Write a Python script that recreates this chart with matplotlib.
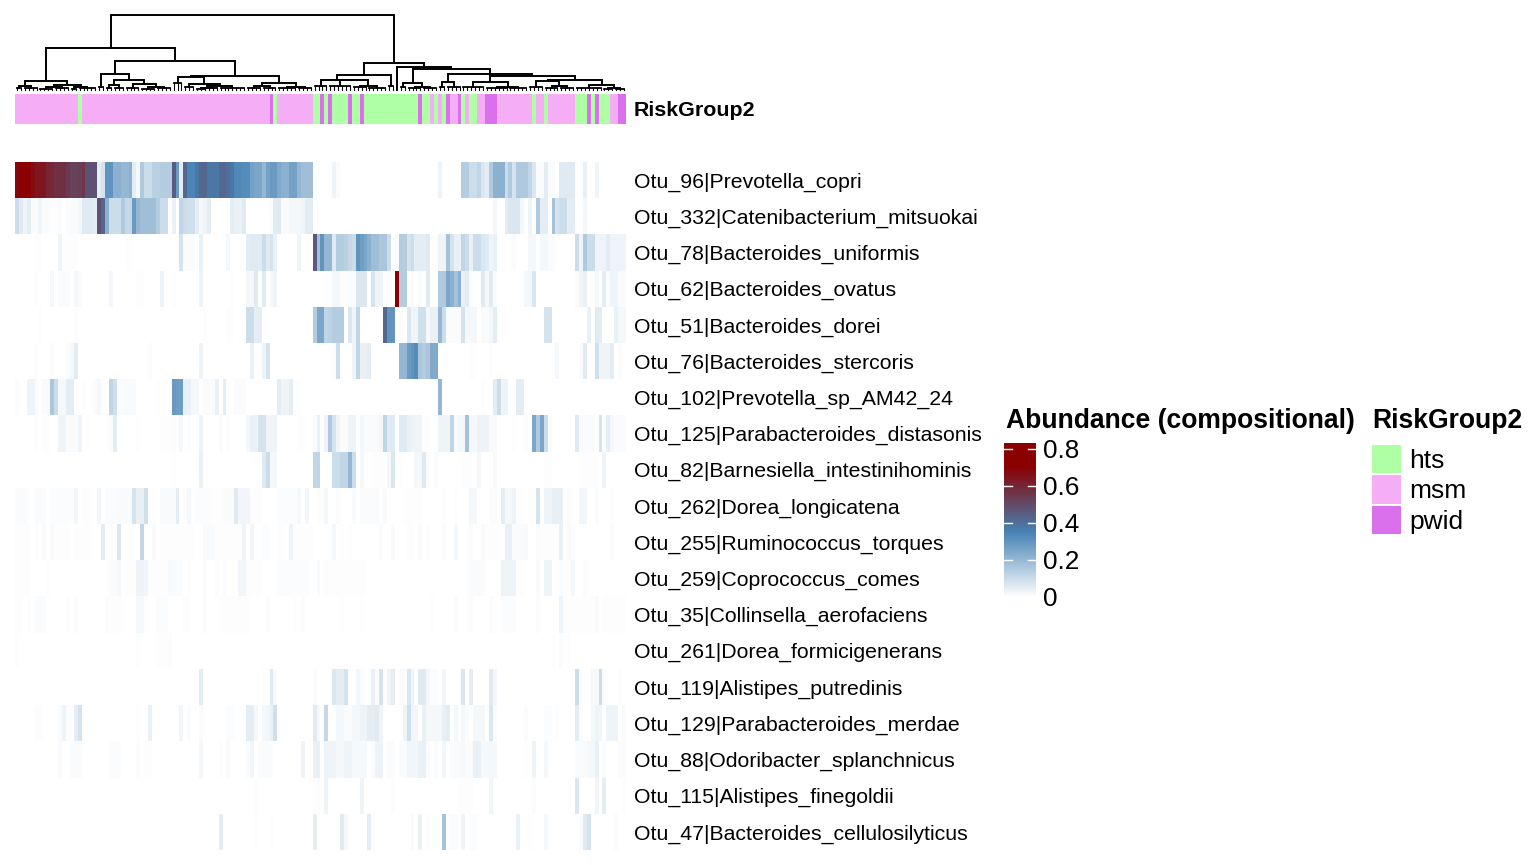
"""
Heatmap of the top OTUs with sample dendrogram and RiskGroup2 annotation
"""

import numpy as np
import matplotlib
matplotlib.use('Agg')
import matplotlib.pyplot as plt
from matplotlib.colors import LinearSegmentedColormap, ListedColormap, Normalize
from matplotlib.patches import Rectangle

plt.rcParams['font.family'] = ['Liberation Sans', 'DejaVu Sans']

n_samples = 156

otu_labels = [
    'Otu_96|Prevotella_copri', 'Otu_332|Catenibacterium_mitsuokai',
    'Otu_78|Bacteroides_uniformis', 'Otu_62|Bacteroides_ovatus',
    'Otu_51|Bacteroides_dorei', 'Otu_76|Bacteroides_stercoris',
    'Otu_102|Prevotella_sp_AM42_24', 'Otu_125|Parabacteroides_distasonis',
    'Otu_82|Barnesiella_intestinihominis', 'Otu_262|Dorea_longicatena',
    'Otu_255|Ruminococcus_torques', 'Otu_259|Coprococcus_comes',
    'Otu_35|Collinsella_aerofaciens', 'Otu_261|Dorea_formicigenerans',
    'Otu_119|Alistipes_putredinis', 'Otu_129|Parabacteroides_merdae',
    'Otu_88|Odoribacter_splanchnicus', 'Otu_115|Alistipes_finegoldii',
    'Otu_47|Bacteroides_cellulosilyticus',
]

# abundance per row, as runs of samples: (first, stop, value), zero elsewhere
otu_96_left = [.68, .72, .7, .69, .66, .64, .64, .64, .6, .59, .57, .57, .57, .54, .52, .52, .53, .55, .48, .48,
               .48, .05, .08, .3, .3, .22, .22, .2, .2, .22, .05, .02, .15, .1, .1, .13, .13, .14, .14, .14,
               .45, .28, .05, .42, .34, .34, .38, .42, .42, .38, .38, .38, .42, .42, .4, .38, .33, .33, .32, .32,
               .26, .25, .25, .2, .26, .28, .28, .24, .22, .22, .26, .26, .2, .18, .18, .18]
otu_96 = [(81, 82, .03), (82, 83, .01), (108, 109, .03), (114, 116, .14), (116, 118, .1), (118, 119, .12), (119, 120, .07),
          (120, 121, .05), (121, 122, .15), (122, 125, .22), (125, 126, .1), (126, 127, .15), (127, 128, .08),
          (128, 131, .15), (131, 132, .12), (132, 133, .07), (133, 135, .01), (135, 136, .05), (136, 138, .01),
          (139, 143, .06), (145, 146, .04), (148, 149, .03)]
otu_332 = [(0, 1, .1), (1, 2, .06), (2, 3, .03), (3, 4, .05), (4, 6, .01), (6, 7, .03), (7, 9, .01), (9, 11, .005),
           (11, 12, .01), (13, 16, .01), (16, 17, .02), (17, 20, .06), (20, 21, .05), (21, 22, .48), (22, 23, .42),
           (23, 24, .22), (24, 27, .1), (27, 28, .15), (28, 30, .11), (30, 31, .28), (31, 32, .2), (32, 36, .18),
           (36, 37, .14), (37, 39, .1), (40, 41, .04), (42, 43, .12), (43, 44, .1), (44, 46, .09), (46, 47, .05),
           (47, 48, .02), (48, 49, .03), (49, 50, .05), (55, 56, .05), (56, 58, .04), (58, 59, .06), (65, 66, .01),
           (66, 68, .06), (68, 70, .015), (70, 73, .02), (73, 74, .03), (74, 76, .05), (122, 123, .02), (125, 126, .05),
           (126, 129, .07), (129, 130, .02), (131, 132, .03), (133, 134, .15), (134, 136, .05), (137, 138, .17),
           (138, 139, .08), (139, 141, .1), (141, 143, .05), (145, 146, .02)]
otu_78 = [(5, 7, .005), (11, 12, .03), (12, 16, .005), (28, 30, .005), (42, 43, .08), (43, 46, .01), (47, 48, .04),
          (54, 55, .02), (59, 60, .05), (60, 63, .06), (63, 64, .1), (64, 65, .06), (65, 66, .08), (66, 67, .04),
          (72, 73, .03), (76, 77, .45), (77, 78, .17), (78, 79, .3), (79, 81, .2), (81, 82, .06), (82, 84, .14),
          (84, 85, .13), (85, 86, .11), (86, 87, .1), (87, 88, .3), (88, 89, .27), (89, 90, .25), (90, 91, .22),
          (91, 93, .18), (93, 95, .16), (95, 96, .1), (97, 98, .01), (98, 100, .14), (100, 101, .08), (101, 102, .1),
          (102, 105, .05), (105, 106, .06), (108, 110, .03), (110, 111, .17), (111, 112, .08), (112, 114, .04),
          (114, 115, .12), (115, 116, .1), (116, 117, .04), (117, 119, .1), (119, 120, .07), (120, 121, .06),
          (121, 122, .03), (122, 123, .04), (127, 128, .01), (131, 133, .02), (134, 136, .02), (136, 138, .01),
          (143, 144, .1), (144, 145, .03), (145, 146, .15), (146, 148, .1), (148, 151, .03), (151, 152, .05), (152, 156, .03)]
otu_62 = [(5, 6, .005), (9, 10, .02), (11, 14, .01), (15, 16, .02), (16, 17, .01), (24, 25, .025), (31, 33, .005),
          (37, 38, .03), (40, 41, .005), (47, 48, .03), (55, 56, .005), (59, 61, .02), (61, 62, .06), (63, 64, .06),
          (65, 66, .02), (66, 67, .03), (79, 80, .005), (81, 83, .02), (83, 85, .005), (85, 87, .01), (87, 90, .07),
          (91, 92, .08), (92, 94, .03), (95, 96, .005), (97, 98, .83), (98, 100, .14), (101, 102, .015), (103, 104, .01),
          (105, 106, .06), (108, 110, .15), (110, 111, .25), (111, 112, .22), (112, 113, .17), (113, 114, .22),
          (114, 115, .04), (115, 116, .05), (116, 117, .01), (119, 120, .06), (120, 121, .02), (121, 122, .06),
          (122, 123, .01), (130, 132, .02), (132, 133, .07), (143, 144, .01), (144, 145, .03), (145, 146, .04),
          (148, 149, .02), (150, 151, .05), (151, 152, .01), (152, 154, .03), (154, 156, .01)]
otu_51 = [(6, 7, .005), (15, 16, .005), (28, 29, .002), (34, 35, .003), (48, 49, .005), (54, 56, .005), (59, 61, .1),
          (61, 63, .05), (76, 77, .14), (77, 79, .25), (79, 80, .12), (80, 81, .13), (81, 84, .14), (85, 86, .07),
          (86, 87, .03), (87, 88, .12), (94, 95, .42), (95, 97, .3), (98, 99, .01), (100, 101, .07), (101, 103, .03),
          (103, 105, .09), (105, 106, .02), (106, 108, .04), (108, 109, .2), (109, 110, .1), (110, 114, .01),
          (114, 115, .08), (115, 116, .02), (116, 118, .02), (119, 120, .015), (120, 121, .01), (121, 122, .02),
          (122, 123, .05), (135, 137, .08), (146, 147, .04), (148, 149, .06), (149, 150, .05), (153, 154, .04), (154, 156, .02)]
otu_76 = [(5, 6, .005), (9, 10, .01), (13, 14, .01), (14, 15, .02), (15, 16, .05), (16, 17, .002), (34, 35, .01),
          (47, 48, .03), (60, 61, .04), (63, 64, .03), (64, 65, .08), (81, 82, .01), (82, 83, .1), (86, 87, .03),
          (87, 88, .12), (88, 90, .04), (90, 91, .05), (98, 100, .2), (100, 101, .28), (101, 102, .3), (102, 103, .32),
          (103, 104, .16), (104, 105, .14), (105, 106, .16), (106, 108, .24), (116, 118, .005), (121, 122, .005),
          (138, 139, .02), (144, 145, .01), (145, 146, .06), (148, 149, .09), (149, 150, .03), (150, 152, .03),
          (152, 153, .05), (154, 155, .01)]
otu_102 = [(0, 1, .01), (3, 5, .03), (5, 6, .01), (7, 9, .015), (9, 10, .16), (10, 11, .1), (11, 13, .02), (13, 15, .05),
           (17, 18, .005), (20, 21, .01), (21, 22, .02), (24, 25, .12), (25, 26, .09), (26, 28, .01), (28, 31, .015),
           (36, 37, .005), (40, 41, .28), (41, 43, .27), (43, 45, .04), (45, 47, .02), (48, 49, .01), (49, 51, .01),
           (51, 52, .04), (53, 54, .05), (56, 59, .012), (67, 68, .05), (68, 70, .03), (70, 71, .05), (71, 73, .005),
           (108, 109, .2), (119, 120, .005), (122, 123, .05), (123, 124, .1), (124, 126, .03), (128, 130, .05),
           (130, 131, .005), (137, 142, .003)]
otu_125 = [(5, 6, .005), (7, 9, .005), (11, 13, .03), (13, 16, .01), (16, 17, .03), (18, 19, .005), (24, 25, .01),
           (25, 26, .05), (31, 32, .005), (35, 36, .003), (37, 40, .005), (40, 41, .01), (42, 43, .02), (44, 45, .005),
           (47, 48, .03), (52, 53, .01), (54, 55, .005), (59, 60, .02), (60, 62, .04), (62, 64, .08), (64, 67, .03),
           (72, 74, .005), (76, 77, .01), (77, 78, .04), (79, 80, .03), (80, 81, .15), (81, 82, .08), (82, 83, .03),
           (83, 85, .01), (85, 87, .03), (88, 89, .02), (89, 93, .012), (93, 94, .02), (94, 95, .12), (95, 97, .06),
           (98, 100, .06), (100, 101, .04), (101, 104, .03), (104, 106, .005), (108, 111, .03), (111, 112, .12),
           (112, 113, .01), (113, 115, .02), (115, 116, .17), (116, 118, .02), (118, 121, .035), (121, 123, .015),
           (127, 128, .005), (130, 131, .01), (132, 133, .25), (133, 134, .15), (134, 135, .25), (135, 136, .1),
           (136, 137, .015), (137, 139, .002), (143, 144, .06), (144, 145, .015), (145, 148, .01), (149, 150, .08),
           (150, 151, .01), (151, 152, .05), (152, 153, .02), (153, 156, .01)]
otu_82 = [(40, 41, .005), (47, 48, .04), (63, 64, .06), (64, 65, .1), (65, 67, .02), (76, 78, .12), (81, 83, .1),
          (83, 85, .12), (85, 86, .2), (86, 87, .1), (88, 89, .02), (91, 95, .005), (95, 96, .02), (96, 97, .07),
          (98, 99, .005), (102, 104, .02), (104, 105, .06), (105, 106, .01), (107, 108, .01), (114, 118, .006),
          (118, 119, .02), (122, 123, .015), (135, 137, .005), (144, 149, .005), (150, 151, .03)]
otu_262 = [(0, 3, .01), (5, 8, .01), (9, 15, .008), (15, 16, .025), (17, 20, .006), (21, 22, .025), (23, 26, .012),
           (26, 30, .015), (30, 31, .08), (31, 33, .045), (33, 34, .09), (34, 36, .004), (37, 41, .016), (41, 42, .05),
           (43, 44, .008), (44, 45, .02), (46, 47, .008), (47, 50, .008), (50, 53, .004), (53, 56, .012), (56, 57, .06),
           (57, 60, .025), (60, 63, .006), (67, 72, .008), (72, 73, .02), (74, 75, .025), (77, 79, .005), (79, 80, .02),
           (82, 83, .01), (86, 87, .015), (88, 92, .01), (92, 93, .015), (94, 95, .015), (99, 102, .006), (102, 104, .005),
           (109, 110, .005), (112, 113, .005), (116, 118, .02), (121, 123, .01), (124, 125, .05), (125, 127, .02),
           (127, 128, .03), (128, 130, .005), (131, 133, .005), (133, 134, .08), (135, 137, .03), (137, 140, .045),
           (141, 142, .01), (144, 146, .025), (148, 149, .01), (152, 153, .005), (154, 155, .003)]
otu_255 = [(0, 4, .004), (5, 6, .008), (7, 8, .015), (9, 10, .015), (10, 14, .005), (15, 20, .005), (22, 23, .05),
           (24, 25, .015), (26, 27, .07), (29, 31, .006), (32, 33, .12), (33, 34, .004), (35, 36, .015), (37, 46, .004),
           (48, 51, .015), (51, 58, .005), (58, 59, .03), (60, 61, .025), (63, 65, .008), (67, 69, .005), (70, 71, .03),
           (71, 76, .005), (81, 82, .02), (83, 84, .005), (85, 86, .005), (93, 94, .01), (96, 97, .015), (100, 102, .005),
           (103, 104, .015), (105, 106, .005), (109, 110, .01), (112, 113, .02), (116, 117, .01), (119, 120, .015),
           (120, 124, .005), (125, 127, .04), (127, 130, .01), (130, 131, .015), (133, 134, .01), (134, 139, .005),
           (139, 140, .04), (141, 142, .015), (142, 143, .005), (152, 153, .01)]
otu_259 = [(0, 4, .005), (4, 8, .003), (8, 9, .006), (9, 24, .003), (24, 26, .012), (26, 27, .02), (27, 29, .005),
           (29, 31, .005), (31, 33, .035), (33, 34, .025), (34, 39, .005), (39, 40, .015), (40, 43, .01), (44, 45, .004),
           (48, 49, .01), (51, 52, .008), (53, 54, .01), (57, 59, .025), (59, 63, .005), (67, 75, .008), (77, 78, .015),
           (79, 80, .012), (80, 90, .004), (116, 120, .012), (124, 128, .03), (128, 130, .005), (133, 134, .015),
           (135, 137, .03), (139, 140, .012), (140, 142, .006), (142, 143, .02), (145, 146, .012), (150, 154, .003)]
otu_35 = [(0, 2, .004), (3, 4, .004), (5, 8, .012), (13, 14, .004), (15, 16, .01), (23, 24, .01), (24, 28, .006),
          (31, 33, .018), (33, 34, .006), (36, 39, .008), (43, 45, .006), (48, 49, .012), (52, 58, .005), (58, 60, .004),
          (64, 65, .008), (71, 72, .006), (73, 74, .01), (76, 83, .003), (83, 84, .005), (88, 89, .004), (106, 107, .004),
          (112, 113, .012), (116, 117, .012), (121, 122, .012), (122, 123, .005), (124, 128, .008), (133, 134, .012),
          (134, 139, .002), (139, 140, .03), (140, 148, .005), (148, 149, .015), (150, 156, .006)]
otu_261 = [(0, 1, .005), (1, 31, .002), (31, 32, .006), (32, 36, .002), (36, 39, .005), (39, 40, .008), (40, 76, .002),
           (85, 86, .003), (119, 121, .003), (137, 138, .006), (139, 140, .01), (141, 142, .006)]
otu_119 = [(47, 48, .05), (63, 64, .005), (65, 66, .06), (66, 67, .015), (76, 77, .012), (81, 82, .07), (82, 84, .05),
           (84, 85, .08), (87, 88, .02), (88, 89, .01), (91, 92, .04), (92, 93, .01), (93, 94, .08), (95, 96, .03),
           (96, 97, .05), (98, 99, .015), (99, 100, .012), (100, 101, .07), (101, 102, .03), (103, 105, .06),
           (105, 106, .025), (106, 108, .007), (109, 110, .025), (114, 115, .07), (116, 117, .05), (121, 122, .06),
           (122, 123, .025), (143, 144, .1), (144, 145, .007), (147, 149, .02), (149, 150, .1), (150, 151, .012), (154, 155, .005)]
otu_129 = [(5, 7, .008), (11, 12, .01), (12, 13, .03), (13, 15, .005), (15, 16, .05), (16, 17, .08), (17, 19, .003),
           (31, 32, .005), (34, 35, .04), (42, 43, .025), (44, 45, .01), (47, 48, .012), (54, 56, .008), (59, 61, .05),
           (61, 62, .02), (63, 64, .02), (64, 65, .025), (65, 66, .04), (66, 67, .09), (76, 77, .06), (77, 78, .02),
           (79, 80, .11), (82, 84, .02), (84, 86, .012), (86, 88, .02), (88, 90, .03), (90, 92, .05), (92, 93, .06),
           (93, 94, .03), (99, 100, .03), (100, 101, .09), (101, 103, .025), (104, 105, .04), (105, 108, .02),
           (108, 109, .02), (109, 110, .04), (110, 111, .05), (112, 113, .02), (114, 115, .02), (115, 116, .01),
           (117, 120, .02), (121, 122, .07), (122, 123, .01), (130, 131, .012), (135, 137, .007), (138, 139, .006),
           (143, 144, .05), (144, 145, .012), (147, 148, .02), (148, 149, .03), (149, 150, .025), (151, 154, .03), (155, 156, .012)]
otu_88 = [(7, 8, .003), (11, 12, .015), (14, 17, .012), (24, 27, .008), (31, 32, .008), (33, 35, .006), (47, 48, .02),
          (52, 53, .006), (54, 55, .015), (59, 60, .01), (60, 61, .025), (62, 66, .012), (73, 74, .03), (76, 78, .04),
          (79, 82, .03), (82, 84, .022), (84, 86, .03), (86, 88, .018), (88, 90, .018), (91, 92, .01), (92, 94, .035),
          (95, 97, .01), (98, 100, .01), (100, 103, .025), (103, 105, .04), (105, 106, .01), (107, 108, .01), (109, 110, .025),
          (111, 112, .01), (112, 114, .012), (114, 115, .018), (115, 117, .012), (117, 119, .04), (119, 121, .018),
          (121, 123, .022), (130, 131, .005), (132, 133, .03), (135, 136, .02), (143, 146, .012), (146, 148, .02),
          (148, 149, .04), (150, 151, .01), (154, 156, .012)]
otu_115 = [(11, 12, .002), (54, 55, .002), (61, 62, .008), (76, 77, .005), (77, 78, .01), (79, 80, .03), (82, 88, .002),
           (88, 89, .03), (96, 97, .008), (100, 101, .003), (106, 113, .002), (113, 117, .005), (121, 122, .025),
           (132, 133, .01), (143, 144, .07), (148, 149, .025), (150, 151, .05), (155, 156, .005)]
otu_47 = [(52, 53, .05), (61, 62, .005), (65, 66, .005), (76, 77, .05), (83, 84, .06), (84, 85, .02), (90, 91, .05),
          (91, 92, .01), (101, 102, .015), (103, 104, .04), (105, 106, .004), (109, 110, .17), (110, 111, .005),
          (111, 113, .012), (114, 115, .03), (116, 118, .008), (128, 129, .04), (131, 132, .004), (135, 136, .02),
          (144, 145, .01), (145, 146, .06), (146, 147, .08), (153, 154, .012)]

otu_rows = [otu_96, otu_332, otu_78, otu_62, otu_51, otu_76, otu_102, otu_125, otu_82, otu_262,
            otu_255, otu_259, otu_35, otu_261, otu_119, otu_129, otu_88, otu_115, otu_47]

# RiskGroup2 per sample, as (group, count)
risk_runs = [('msm', 16), ('hts', 1), ('msm', 48), ('pwid', 1), ('hts', 1), ('msm', 9), ('hts', 2), ('pwid', 1),
             ('hts', 1), ('pwid', 1), ('hts', 4), ('pwid', 1), ('hts', 2), ('pwid', 1), ('hts', 14), ('pwid', 1),
             ('hts', 2), ('msm', 1), ('hts', 1), ('msm', 1), ('hts', 1), ('pwid', 1), ('msm', 2), ('pwid', 1),
             ('hts', 1), ('msm', 1), ('hts', 2), ('msm', 2), ('pwid', 3), ('msm', 9), ('hts', 1), ('msm', 2),
             ('hts', 1), ('msm', 7), ('hts', 3), ('pwid', 1), ('hts', 1), ('pwid', 1), ('hts', 3), ('msm', 2), ('pwid', 2)]
risk_levels = ['hts', 'msm', 'pwid']
risk_colors = ['#AFFFA5', '#F5AEF5', '#DA70EB']

# sample tree: (height, left, right), a list [height, n] is a tight group of n samples
tree = (75.5,
        (42,
         (9,
          (4, [2, 2], [2, 4]),
          (5, (3, [1.5, 4], [2, 4]), (3.5, [1.5, 2], [2.5, 5]))),
         (29,
          (16,
           [3, 2],
           (10,
            (5, [2, 2], [2.5, 3]),
            (6, [2.5, 4], (3.5, [1.5, 4], [2, 4])))),
           (14,
            (13, [7.5, 3], (6, [3, 3], (4, (2.5, [1.5, 3], [2, 3]), [2, 7]))),
            (7.3, (4, [2, 4], [2.5, 4]), (3.5, [2.5, 5], [2, 4]))))),
        (27.3,
         (15,
          (10.5, [4, 4], (10, [4, 6], (4, [3, 4], [2, 5]))),
          [4.5, 2]),
         (23,
          [0, 1],
          (21,
           (7.5, [3, 2], (3, [2, 4], [2.5, 4])),
           (16,
            (8, [3, 2], [3, 4]),
            (14,
             (8.3, [3, 6], (3.5, [2, 6], [2.5, 5])),
             (10,
              (9, [3, 4], (4, [2, 4], [2.5, 4])),
              (5, [2.5, 7], (2, [1.5, 3], [1, 3])))))))))

cbar_ticks = [0, 0.2, 0.4, 0.6, 0.8]
cbar_labels = ['0', '0.2', '0.4', '0.6', '0.8']
cbar_max = 0.832


def expand_row(runs):
    row = np.zeros(n_samples)
    for first, stop, value in runs:
        row[first:stop] = value
    return row


def draw_tree(ax, node, first):
    """returns x position, height and next free sample"""
    if isinstance(node, list):
        h, n = node
        xs = first + np.arange(n) + 0.5
        if n > 1:
            ax.plot([xs[0], xs[-1]], [h, h], color='black', lw=1.3, solid_capstyle='projecting')
        for x in xs:
            ax.plot([x, x], [0, h], color='black', lw=0.8)
        return xs.mean(), h, first + n
    h, left, right = node
    xl, hl, nxt = draw_tree(ax, left, first)
    xr, hr, nxt = draw_tree(ax, right, nxt)
    ax.plot([xl, xl, xr, xr], [hl, h, h, hr], color='black', lw=1.4, solid_joinstyle='miter')
    return (xl + xr) / 2, h, nxt


def px_axes(fig, x0, y0, x1, y1):
    W, H = fig.get_size_inches() * fig.dpi
    ax = fig.add_axes([x0 / W, 1 - y1 / H, (x1 - x0) / W, (y1 - y0) / H])
    ax.set_axis_off()
    return ax


def main():
    fig = plt.figure(figsize=(15.36, 8.65), dpi=100, facecolor='white')

    # white - steelblue - darkred
    cmap = LinearSegmentedColormap.from_list(
        'abund', [(0, '#FFFFFF'), (0.35 / cbar_max, '#4682B4'), (0.7 / cbar_max, '#8B0000'), (1, '#8B0000')])
    norm = Normalize(0, cbar_max)

    # dendrogram
    ax_tree = px_axes(fig, 15, 0, 626, 90)
    draw_tree(ax_tree, tree, 0)
    ax_tree.set_xlim(0, n_samples)
    ax_tree.set_ylim(0, 90)
    for line in ax_tree.lines:
        line.set_clip_on(False)

    # annotation strip
    codes = []
    for group, count in risk_runs:
        codes += [risk_levels.index(group)] * count
    ax_ann = px_axes(fig, 15, 94, 626, 124)
    ax_ann.imshow(np.array(codes)[None, :], aspect='auto', interpolation='nearest',
                  cmap=ListedColormap(risk_colors), vmin=0, vmax=2)

    # heatmap
    data = np.array([expand_row(r) for r in otu_rows])
    data[0, :76] = otu_96_left
    ax_heat = px_axes(fig, 15, 162, 626, 850)
    ax_heat.imshow(data, aspect='auto', interpolation='nearest', cmap=cmap, norm=norm)

    # overlay for texts, in pixels
    ax_txt = px_axes(fig, 0, 0, 1536, 865)
    ax_txt.set_xlim(0, 1536)
    ax_txt.set_ylim(865, 0)
    ax_txt.text(634, 111, 'RiskGroup2', fontsize=15.4, fontweight='bold', va='center', ha='left')
    row_h = (850 - 162) / len(otu_labels)
    for i, label in enumerate(otu_labels):
        ax_txt.text(634, 164 + (i + 0.5) * row_h, label, fontsize=15.3, va='center', ha='left')

    # colorbar
    ax_cb = px_axes(fig, 1004, 442.7, 1036, 597.3)
    grad = np.linspace(cbar_max, 0, 256)[:, None]
    ax_cb.imshow(grad, aspect='auto', extent=[0, 1, 0, cbar_max], cmap=cmap, norm=norm)
    ax_cb.set_xlim(0, 1)
    ax_cb.set_ylim(0, cbar_max)
    for t in cbar_ticks[1:]:
        ax_cb.plot([0, 0.25], [t, t], color='white', lw=1)
        ax_cb.plot([0.75, 1], [t, t], color='white', lw=1)
    for t, lab in zip(cbar_ticks, cbar_labels):
        y = 599.3 - t / 0.8 * 148.6
        ax_txt.text(1043, y, lab, fontsize=18.8, va='center', ha='left')

    ax_txt.text(1006, 421, 'Abundance (compositional)', fontsize=19.1, fontweight='bold', va='center', ha='left')
    ax_txt.text(1372, 421, 'RiskGroup2', fontsize=19.1, fontweight='bold', va='center', ha='left')

    # group legend
    for i, (group, colour) in enumerate(zip(risk_levels, risk_colors)):
        y0 = 444.5 + i * 30.5
        ax_txt.add_patch(Rectangle((1372, y0), 28.5, 28.5, facecolor=colour, edgecolor='none'))
        ax_txt.text(1409, y0 + 16, group, fontsize=19, va='center', ha='left')

    fig.savefig('out.png', dpi=100, facecolor='white')
    plt.close(fig)


if __name__ == '__main__':
    main()
